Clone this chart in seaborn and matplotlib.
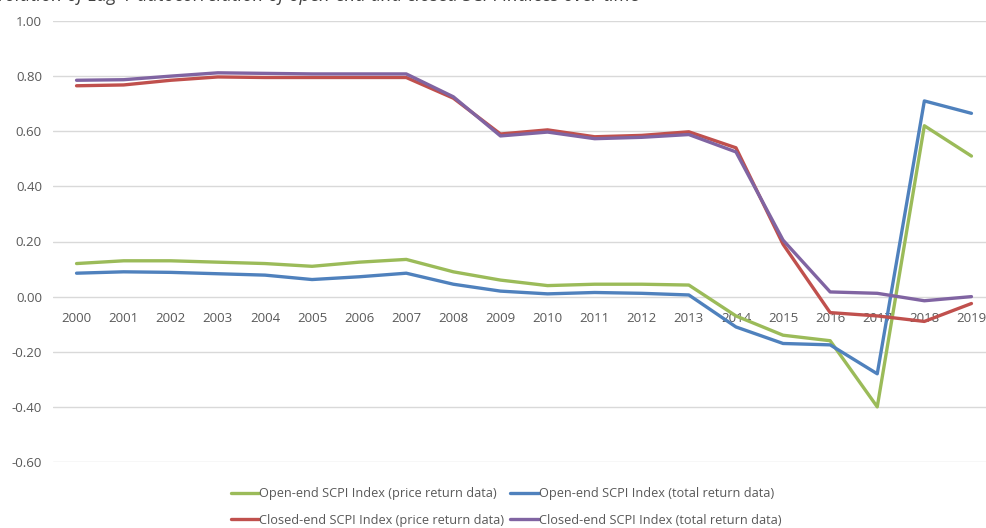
import pandas as pd
import matplotlib
matplotlib.use("Agg")
import matplotlib.pyplot as plt
from matplotlib.lines import Line2D
import seaborn as sns

years = list(range(2000, 2020))

open_price = [0.12, 0.13, 0.13, 0.125, 0.12, 0.11, 0.125, 0.135, 0.09, 0.06,
              0.04, 0.045, 0.045, 0.042, -0.07, -0.14, -0.16, -0.40, 0.62, 0.51]
open_total = [0.085, 0.09, 0.088, 0.083, 0.078, 0.062, 0.072, 0.085, 0.045, 0.02,
              0.01, 0.015, 0.012, 0.006, -0.11, -0.17, -0.175, -0.28, 0.71, 0.665]
closed_price = [0.765, 0.768, 0.785, 0.797, 0.795, 0.795, 0.795, 0.795, 0.72, 0.59,
                0.605, 0.58, 0.585, 0.598, 0.54, 0.19, -0.058, -0.07, -0.09, -0.025]
closed_total = [0.785, 0.787, 0.80, 0.812, 0.81, 0.808, 0.808, 0.808, 0.725, 0.583,
                0.597, 0.573, 0.578, 0.588, 0.525, 0.205, 0.017, 0.012, -0.015, 0.0]

series_names = [
    "Open-end SCPI Index (price return data)",
    "Open-end SCPI Index (total return data)",
    "Closed-end SCPI Index (price return data)",
    "Closed-end SCPI Index (total return data)",
]
series_values = [open_price, open_total, closed_price, closed_total]
colors = ["#9BBB59", "#4F81BD", "#C0504D", "#8064A2"]

title = "Evolution of Lag-1 autocorrelation of open-end and closed SCPI indices over time"

sns.set_style("white")
plt.rcParams["font.family"] = ["Open Sans", "DejaVu Sans"]

rows = []
for name, vals in zip(series_names, series_values):
    for i, v in enumerate(vals):
        rows.append({"pos": i, "value": v, "series": name})
df = pd.DataFrame(rows)

fig = plt.figure(figsize=(9.87, 5.28), dpi=100)
ax = fig.add_axes([53 / 987, 1 - 462 / 528, 942 / 987, (462 - 21) / 528])

sns.lineplot(data=df, x="pos", y="value", hue="series", hue_order=series_names,
             palette=colors, linewidth=2.4, ax=ax, legend=False)

ax.set_xlim(-0.5, 19.5)
ax.set_ylim(-0.6, 1.0)
ax.set_yticks([-0.6, -0.4, -0.2, 0.0, 0.2, 0.4, 0.6, 0.8, 1.0])
ax.set_yticklabels([f"{t:.2f}" for t in ax.get_yticks()])
ax.set_xticks(range(len(years)))
ax.set_xticklabels([str(y) for y in years])
ax.spines["bottom"].set_position(("data", 0))
for s in ax.spines.values():
    s.set_visible(False)
ax.grid(axis="y", color="#D9D9D9", linewidth=1)
ax.set_axisbelow(True)
ax.tick_params(axis="both", length=0, colors="#595959", labelsize=9.5)
ax.tick_params(axis="x", pad=11)
ax.tick_params(axis="y", pad=8)
ax.set_xlabel("")
ax.set_ylabel("")

handles = [Line2D([], [], color=c, linewidth=2.4) for c in colors]
order = [0, 2, 1, 3]
leg = fig.legend([handles[i] for i in order], [series_names[i] for i in order],
                 ncol=2, loc="center", bbox_to_anchor=(506 / 987, 1 - 507 / 528),
                 frameon=False, fontsize=9.2, handlelength=2.2, handletextpad=0.0,
                 columnspacing=0.5, labelspacing=1.05, labelcolor="#595959")

# title sits mostly above the canvas, as in the reference
fig.text(-13 / 987, 1 - 1 / 528, title, fontsize=13.2, style="italic",
         color="#404040", va="baseline", ha="left")

fig.savefig("out.png", dpi=100)
